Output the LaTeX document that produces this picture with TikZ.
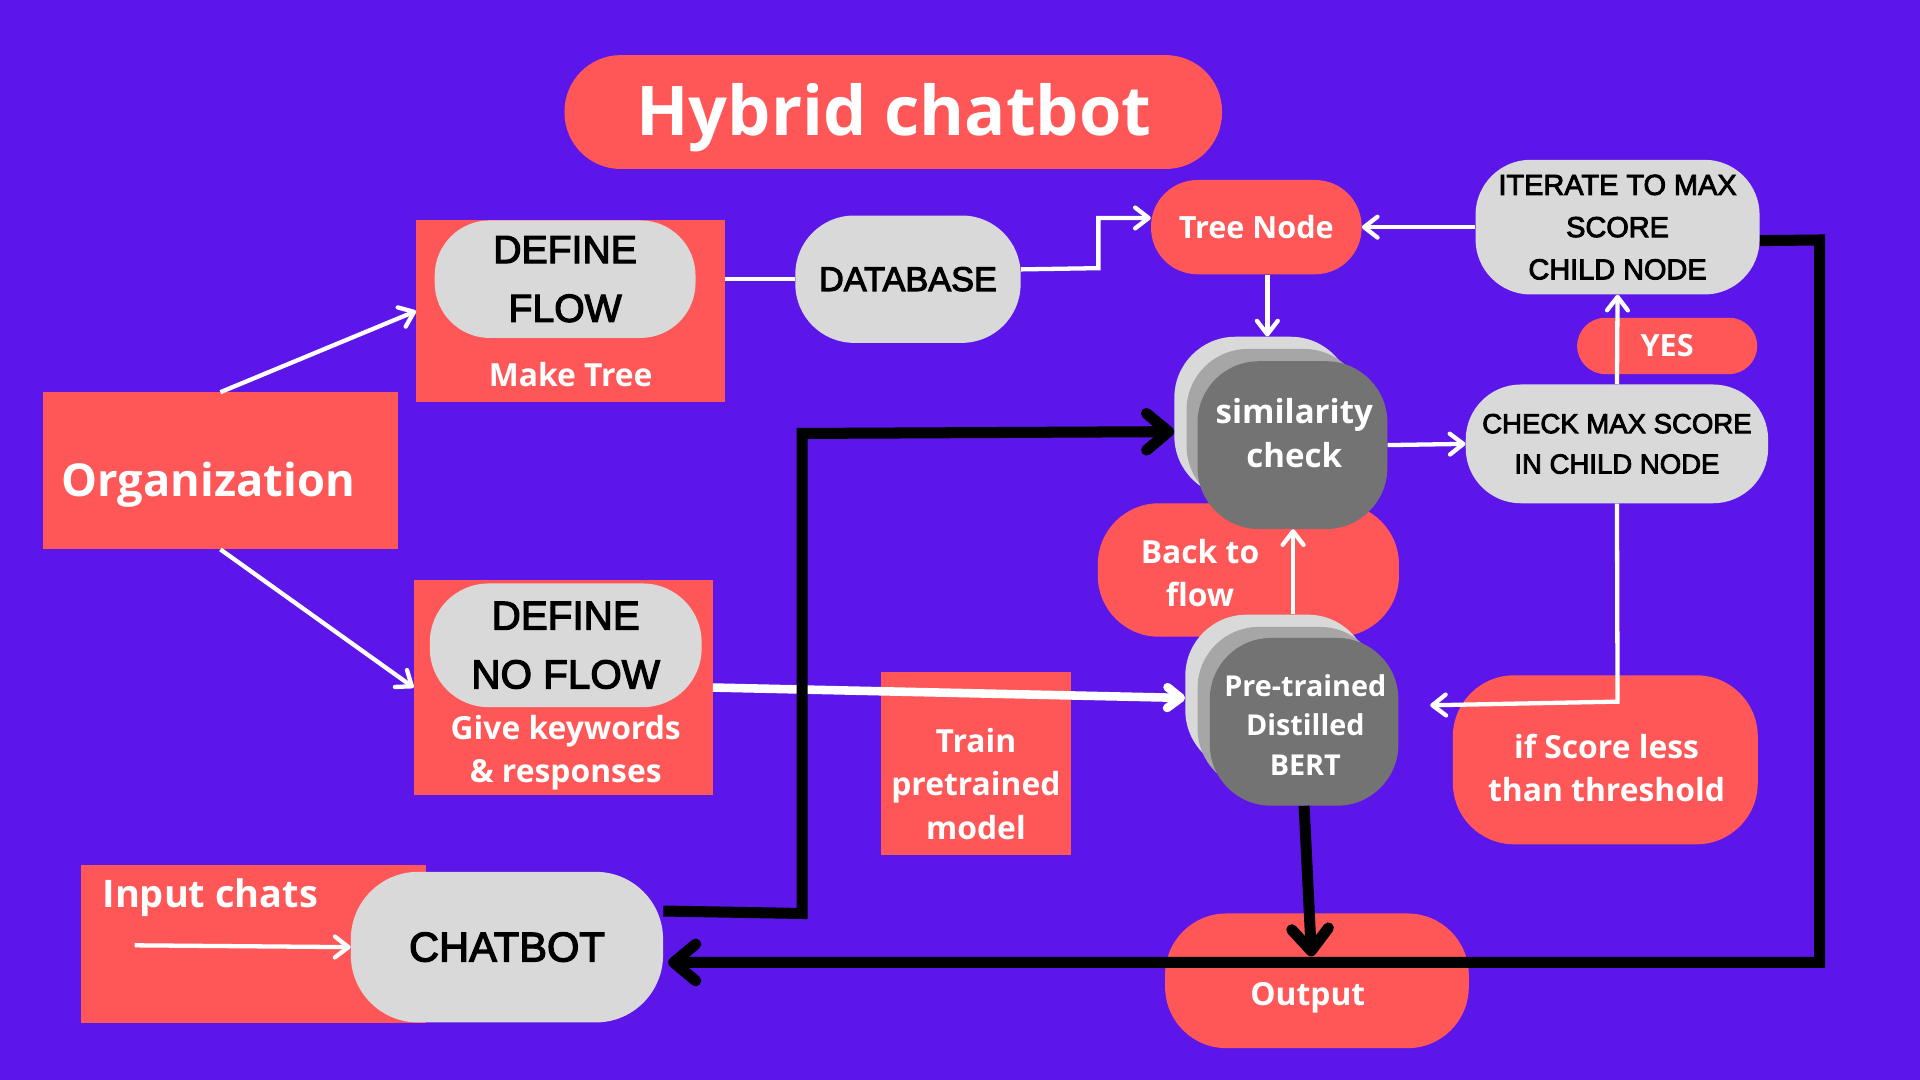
\documentclass[tikz,border=0pt]{standalone}
\usepackage{fontspec}
\setmainfont{Open Sans}
\newfontfamily\capsfont{Liberation Sans}[FakeBold=3]
\usetikzlibrary{arrows.meta}
\definecolor{bgpurple}{HTML}{5C16EA}
\definecolor{coral}{HTML}{FF5757}
\definecolor{lightgrey}{HTML}{D9D9D9}
\definecolor{midgrey}{HTML}{A6A6A6}
\definecolor{darkgrey}{HTML}{737373}
\tikzset{
  sz/.style 2 args={minimum width=#1, minimum height=#2, inner sep=0pt},
  redrect/.style={fill=coral},
  redpill/.style={fill=coral, rounded corners=#1},
  greypill/.style={fill=lightgrey, rounded corners=#1, text=black, align=center},
  wtext/.style 2 args={text=white, inner sep=0pt, align=center, font=\bfseries\fontsize{#1}{#2}\selectfont},
  ktext/.style 2 args={font=\capsfont\fontsize{#1}{#2}\selectfont},
  wline/.style={white, line width=3.5pt},
  warrow/.style={wline, -{Straight Barb[length=11pt,width=17pt,round]}},
  karrow/.style={black, line width=9pt, -{Straight Barb[length=18pt,width=30pt,round]}}
}
\begin{document}
\begin{tikzpicture}[x=1pt, y=-1pt]
  \fill[bgpurple] (0,0) rectangle (1568,882);
  \useasboundingbox (0,0) rectangle (1568,882);

  % title
  \node[redpill=46pt, sz={537pt}{93pt}] (title) at (729.5,91.5) {};
  \node[wtext={56}{60}] (titletext) at (730,96) {Hybrid chatbot};

  % define flow branch
  \node[redrect, sz={252pt}{149pt}] (flowbox) at (466,254) {};
  \node[greypill=45pt, sz={213pt}{96pt}, ktext={32}{48}] (defflow) at (461.5,228) {DEFINE\\FLOW};
  \node[wtext={26}{35}] (maketree) at (466,306) {Make Tree};
  \node[greypill=48pt, sz={184pt}{104pt}, ktext={28}{34}] (database) at (741.5,228) {DATABASE};
  \node[redpill=38pt, sz={172pt}{77pt}, wtext={25}{30}] (treenode) at (1026,185.5) {Tree Node};
  \node[greypill=45pt, sz={232pt}{110pt}, ktext={23.6}{34.5}] (iterate) at (1321,185.5) {ITERATE TO MAX\\SCORE\\CHILD NODE};

  % back to flow sits behind the stacks
  \node[redpill=50pt, sz={246pt}{109pt}] (backflow) at (1019.5,465.5) {};
  \node[wtext={26}{35}] (backtext) at (980,468) {Back to\\flow};

  % similarity check stack
  \node[fill=lightgrey, rounded corners=50pt, sz={145pt}{131pt}] (simA) at (1031.5,340.5) {};
  \node[fill=midgrey, rounded corners=50pt, sz={146pt}{129pt}] (simB) at (1042,349.5) {};
  \node[fill=darkgrey, rounded corners=50pt, sz={155pt}{137pt}] (simC) at (1055.5,363.5) {};
  \node[wtext={27}{36}] (simtext) at (1057,354) {similarity\\check};

  % bert stack
  \node[fill=lightgrey, rounded corners=50pt, sz={150pt}{128pt}] (bertA) at (1043,566) {};
  \node[fill=midgrey, rounded corners=50pt, sz={150pt}{133pt}] (bertB) at (1053,578.5) {};
  \node[fill=darkgrey, rounded corners=50pt, sz={154pt}{137pt}] (bertC) at (1065,589.5) {};
  \node[wtext={23.5}{32}] (berttext) at (1066,592) {Pre-trained\\Distilled\\BERT};

  \node[greypill=45pt, sz={247pt}{97pt}, ktext={22.5}{33}] (checkmax) at (1320.5,362.5) {CHECK MAX SCORE\\IN CHILD NODE};
  \node[redpill=23pt, sz={147pt}{46pt}, wtext={25}{30}] (yes) at (1361.5,282.5) {YES};
  \node[redpill=50pt, sz={249pt}{138pt}] (score) at (1311,620.5) {};
  \node[wtext={26}{35}] (scoretext) at (1312,627) {if Score less\\than threshold};

  % organization and no flow branch
  \node[redrect, sz={290pt}{128pt}] (org) at (180,384.5) {};
  \node[wtext={37}{44}, anchor=base west] (orgtext) at (50,405.5) {Organization};
  \node[redrect, sz={244pt}{175pt}] (noflowbox) at (460,561.5) {};
  \node[greypill=48pt, sz={222pt}{101pt}, ktext={33}{48}] (defnoflow) at (462,527) {DEFINE\\NO FLOW};
  \node[wtext={26}{35}] (keywords) at (462,615) {Give keywords\\\& responses};
  \node[redrect, sz={155pt}{150pt}] (train) at (797,623.5) {};
  \node[wtext={26}{35.5}] (traintext) at (797,640) {Train\\pretrained\\model};

  % chat input
  \node[redrect, sz={282pt}{129pt}] (inputbox) at (207,771) {};
  \node[wtext={31}{38}, anchor=base west] (inputtext) at (83.5,741) {Input chats};
  \node[greypill=55pt, sz={255pt}{123pt}, ktext={34}{40}] (chatbot) at (414,773.5) {CHATBOT};
  \node[redpill=50pt, sz={248pt}{110pt}] (output) at (1075.5,801) {};
  \node[wtext={26}{32}] (outtext) at (1068,815) {Output};

  \coordinate (dbbend1) at (897,219);
  \coordinate (dbbend2) at (897,178);
  \coordinate (lowbend) at (1321,573);
  \coordinate (lowend) at (1168,576);
  \coordinate (inputstart) at (110,772);
  \coordinate (chatbend1) at (655,746);
  \coordinate (chatbend2) at (655,354);
  \coordinate (backbend1) at (1486,196);
  \coordinate (backbend2) at (1486,786);
  \coordinate (outtip) at (1071,781);

  % white connectors
  \draw[wline] (flowbox.east |- database.west) -- (database.west);
  \draw[warrow] ([yshift=8pt]database.east) -- (dbbend1) -- (dbbend2) -- (treenode.west |- dbbend2);
  \draw[warrow] (iterate.west) -- (treenode.east);
  \draw[warrow] ([xshift=9pt]treenode.south) -- ([xshift=9pt]treenode.south |- simA.north);
  \draw[warrow] (simC.east) -- (checkmax.west);
  \draw[warrow] ([xshift=13pt]bertA.north) -- ([xshift=13pt]bertA.north |- simC.south);
  \draw[warrow] (checkmax.north) -- (iterate.south);
  \draw[warrow] (checkmax.south) -- (lowbend) -- (lowend);
  \draw[warrow] (org.north) -- (flowbox.west);
  \draw[warrow] (org.south) -- (noflowbox.west);
  \draw[warrow, line width=7pt] (noflowbox.east) -- ([yshift=-4pt]bertA.west);
  \draw[warrow] (inputstart) -- (chatbot.west);

  % black connectors
  \draw[karrow] ([yshift=29.5pt]chatbot.east) -- (chatbend1) -- (chatbend2) -- ([yshift=-12pt]simA.west);
  \draw[karrow] ([yshift=-11pt]iterate.east) -- (backbend1) -- (backbend2) -- ([xshift=4pt,yshift=-12.5pt]chatbot.east);
  \draw[karrow] (bertC.south) -- (outtip);
\end{tikzpicture}
\end{document}
